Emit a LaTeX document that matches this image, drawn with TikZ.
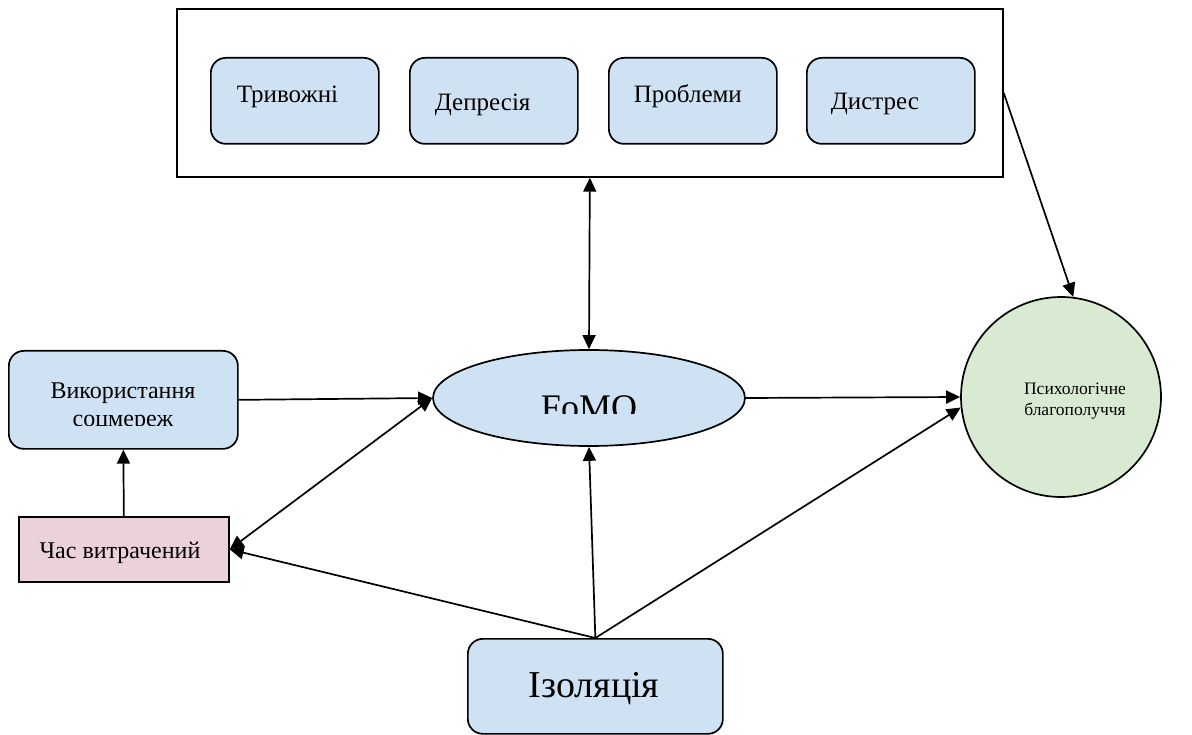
\documentclass[tikz,border=0pt]{standalone}
\usepackage{fontspec}
\setmainfont{Liberation Serif}
\usetikzlibrary{arrows.meta,shapes.geometric}

\definecolor{softblue}{RGB}{207,226,243}
\definecolor{softgreen}{RGB}{217,234,211}
\definecolor{softpink}{RGB}{234,209,220}

\begin{document}
\begin{tikzpicture}[x=1pt,y=-1pt,line width=1.7pt,
  rbox/.style={draw,rounded corners=15pt,fill=softblue,inner sep=0pt,anchor=north west},
  frame/.style={draw,inner sep=0pt,anchor=north west},
  txt/.style={inner sep=0pt},
  arr/.style={-{Triangle[length=14pt,width=13pt]}},
  dbl/.style={{Triangle[length=14pt,width=13pt]}-{Triangle[length=14pt,width=13pt]}}]
\useasboundingbox (0,0) rectangle (1192,735);

% outer frame with the four symptom boxes
\node[frame,minimum width=826pt,minimum height=168pt] (outer) at (176,8) {};
\node[rbox,minimum width=168pt,minimum height=86pt] (anx) at (210,57) {};
\node[rbox,minimum width=168pt,minimum height=86pt] (dep) at (409,57) {};
\node[rbox,minimum width=168pt,minimum height=86pt] (prob) at (608,57) {};
\node[rbox,minimum width=168pt,minimum height=86pt] (dist) at (806,57) {};
\node[txt,anchor=base west,font=\fontsize{25}{30}\selectfont] (anxt) at (236,103) {Тривожні};
\node[txt,anchor=base west,font=\fontsize{25}{30}\selectfont] (dept) at (434,111) {Депресія};
\node[txt,anchor=base west,font=\fontsize{25}{30}\selectfont] (probt) at (633,103) {Проблеми};
\node[txt,anchor=base west,font=\fontsize{25}{30}\selectfont] (distt) at (830,110) {Дистрес};

% left column
\node[rbox,minimum width=229pt,minimum height=98pt] (use) at (8,350) {};
\begin{scope}
  \clip (0,340) rectangle (240,425);
  \node[txt,align=center,font=\fontsize{24}{28}\selectfont] (uset) at (123,407) {Використання\\соцмереж};
\end{scope}
\node[frame,fill=softpink,minimum width=210pt,minimum height=65pt] (time) at (18,516) {};
\node[txt,anchor=base,font=\fontsize{24}{28}\selectfont] (timet) at (120,558) {Час витрачений};

% central FoMO ellipse
\node[ellipse,draw,fill=softblue,inner sep=0pt,minimum width=312pt,minimum height=96pt] (fomo) at (589,398) {};
\begin{scope}
  \clip (430,340) rectangle (750,413);
  \node[txt,anchor=base,font=\fontsize{36}{40}\selectfont] (fomot) at (589,419) {FoMO};
\end{scope}

% well-being circle
\node[circle,draw,fill=softgreen,inner sep=0pt,minimum size=200pt] (psy) at (1061,397) {};
\node[txt,align=center,font=\fontsize{17.5}{21}\selectfont] (psyt) at (1075,401) {Психологічне\\благополуччя};

% isolation box
\node[rbox,minimum width=255pt,minimum height=95pt] (iso) at (467,638) {};
\node[txt,anchor=base,font=\fontsize{38}{42}\selectfont] (isot) at (594,697) {Ізоляція};

% connectors
\draw[dbl] (outer.south) -- (fomo.north);
\draw[arr] (outer.east) -- (psy.83);
\draw[arr] (use.east) -- (fomo.west);
\draw[dbl] (time.east) -- (fomo.west);
\draw[arr] (time.north) -- (use.south);
\draw[arr] (fomo.east) -- (psy.west);
\draw[arr] (iso.north) -- (time.east);
\draw[arr] (iso.north) -- (fomo.south);
\draw[arr] (iso.north) -- (psy.186);
\end{tikzpicture}
\end{document}
